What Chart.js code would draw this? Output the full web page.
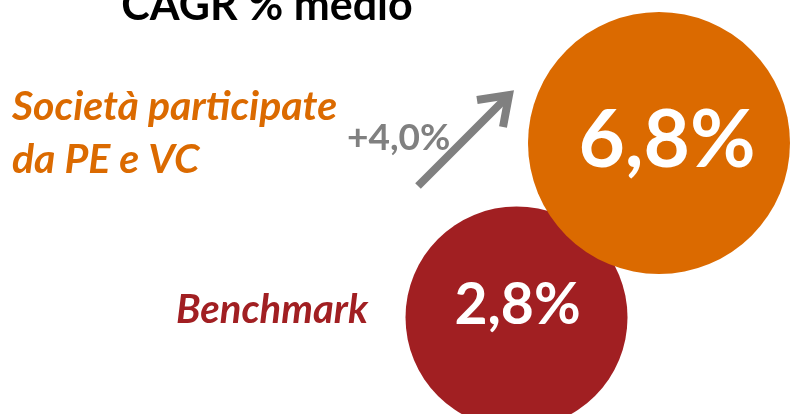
<!DOCTYPE html>
<html>
<head>
<meta charset="utf-8">
<script src="https://cdn.jsdelivr.net/npm/chart.js@4.4.1/dist/chart.umd.min.js"></script>
<style>
    html, body { margin: 0; padding: 0; background: #ffffff; }
    #wrap { width: 794px; height: 414px; position: relative; }
</style>
</head>
<body>
<div id="wrap"><canvas id="cagrChart"></canvas></div>
<script>
// Chart data
const chartTitle = 'CAGR % medio';
const categories = ['Benchmark', 'Società participate\nda PE e VC'];
const cagrValues = [2.8, 6.8];
const cagrDelta = 4.0;

const categoryColors = ['#A11F22', '#DB6A00'];
const bubbleRadius = [111, 131];
const fontFamily = 'Lato, "Open Sans", sans-serif';

function formatPct(v, sign) {
    return (sign && v > 0 ? '+' : '') + v.toFixed(1).replace('.', ',') + '%';
}

// Draws title, category labels, values in bubbles and the growth arrow
const labelsPlugin = {
    id: 'cagrLabels',
    afterDatasetsDraw(chart) {
        const ctx = chart.ctx;
        const meta = chart.getDatasetMeta(0);
        ctx.save();

        // title (cut by the top edge as in the slide)
        ctx.fillStyle = '#000000';
        ctx.font = 'bold 43px ' + fontFamily;
        ctx.textAlign = 'center';
        ctx.textBaseline = 'alphabetic';
        ctx.fillText(chartTitle, 267, 20);

        // values inside bubbles
        const valueFonts = [57, 80];
        const valueOffsets = [[1, -12], [8, -2]];
        meta.data.forEach((pt, i) => {
            ctx.fillStyle = '#ffffff';
            ctx.font = 'bold ' + valueFonts[i] + 'px ' + fontFamily;
            ctx.textAlign = 'center';
            ctx.textBaseline = 'middle';
            ctx.fillText(formatPct(cagrValues[i]), pt.x + valueOffsets[i][0], pt.y + valueOffsets[i][1]);
        });

        // category labels
        ctx.font = 'italic bold 40px ' + fontFamily;
        ctx.textAlign = 'left';
        ctx.textBaseline = 'alphabetic';
        ctx.fillStyle = categoryColors[0];
        ctx.fillText(categories[0], 176, 323);
        ctx.fillStyle = categoryColors[1];
        ctx.font = 'italic bold 41px ' + fontFamily;
        categories[1].split('\n').forEach((line, k) => {
            ctx.fillText(line, 12, 120 + k * 53);
        });

        // growth arrow
        ctx.strokeStyle = '#808080';
        ctx.lineWidth = 8;
        ctx.lineCap = 'butt';
        ctx.lineJoin = 'miter';
        ctx.beginPath();
        ctx.moveTo(418, 186);
        ctx.lineTo(508, 96);
        ctx.stroke();
        ctx.beginPath();
        ctx.moveTo(477, 100);
        ctx.lineTo(509, 95);
        ctx.lineTo(503, 127);
        ctx.stroke();

        // delta label
        ctx.fillStyle = '#808080';
        ctx.font = 'bold 37px ' + fontFamily;
        ctx.textAlign = 'left';
        ctx.textBaseline = 'alphabetic';
        ctx.fillText(formatPct(cagrDelta, true), 347, 150);

        ctx.restore();
    }
};

new Chart(document.getElementById('cagrChart'), {
    type: 'bubble',
    data: {
        datasets: [{
            label: 'CAGR',
            // each bubble sits at (value, value) on both axes
            data: cagrValues.map((v, i) => ({ x: v, y: v, r: bubbleRadius[i] })),
            backgroundColor: categoryColors,
            borderWidth: 0,
            hoverBorderWidth: 0,
            hoverRadius: 0,
            clip: false
        }]
    },
    options: {
        responsive: true,
        maintainAspectRatio: false,
        animation: false,
        events: [],
        layout: { padding: 0, autoPadding: false },
        scales: {
            x: { type: 'linear', display: false, min: -11.7, max: 10.59 },
            y: { type: 'linear', display: false, min: 0.587, max: 10.08 }
        },
        plugins: {
            legend: { display: false },
            tooltip: { enabled: false },
            title: { display: false }
        }
    },
    plugins: [labelsPlugin]
});
</script>
</body>
</html>
